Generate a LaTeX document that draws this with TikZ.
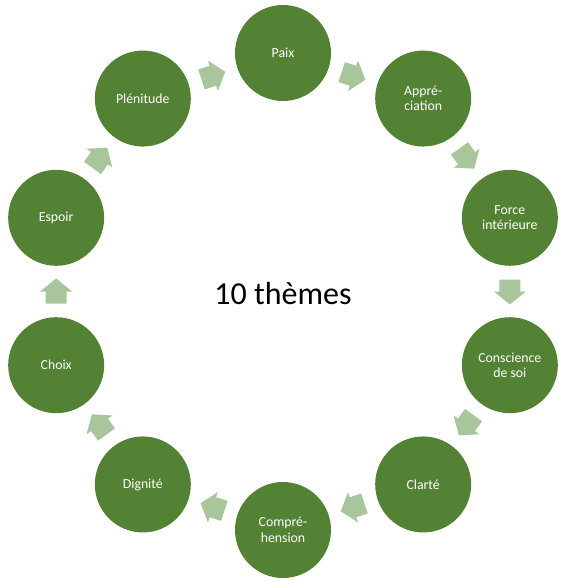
\documentclass[tikz,border=0pt]{standalone}
\usepackage{fontspec}
\setmainfont{Carlito}
\usetikzlibrary{calc}
\definecolor{circgreen}{RGB}{84,130,53}
\definecolor{arrgreen}{RGB}{169,197,156}
\tikzset{
  theme/.style={circle, fill=circgreen, minimum size=96pt, inner sep=0pt,
    text=white, font=\fontsize{13.8}{15.5}\selectfont, align=center},
  blockarrow/.style={fill=arrgreen}
}
\newcommand{\blockarr}[3]{%
  \fill[blockarrow, shift={($(#1)!0.5!(#2)$)}, rotate=#3]
    (-12pt,-10.5pt) -- (0pt,-10.5pt) -- (0pt,-16pt) -- (13pt,0pt) --
    (0pt,16pt) -- (0pt,10.5pt) -- (-12pt,10.5pt) -- cycle;}
\begin{document}
\begin{tikzpicture}
\useasboundingbox (-283pt,-290.5pt) rectangle (283pt,291.5pt);
\node[theme] (n0) at (90:238.5pt) {Paix};
\node[theme] (n1) at (54:238.5pt) {Appré-\\ciation};
\node[theme] (n2) at (18:238.5pt) {Force\\intérieure};
\node[theme] (n3) at (-18:238.5pt) {Conscience\\de soi};
\node[theme] (n4) at (-54:238.5pt) {Clarté};
\node[theme] (n5) at (-90:238.5pt) {Compré-\\hension};
\node[theme] (n6) at (-126:238.5pt) {Dignité};
\node[theme] (n7) at (-162:238.5pt) {Choix};
\node[theme] (n8) at (162:238.5pt) {Espoir};
\node[theme] (n9) at (126:238.5pt) {Plénitude};
\node[font=\fontsize{32}{38}\selectfont] (title) at (0pt,-2pt) {10 thèmes};
\blockarr{n0}{n1}{-18}
\blockarr{n1}{n2}{-54}
\blockarr{n2}{n3}{-90}
\blockarr{n3}{n4}{-126}
\blockarr{n4}{n5}{-162}
\blockarr{n5}{n6}{-198}
\blockarr{n6}{n7}{-234}
\blockarr{n7}{n8}{-270}
\blockarr{n8}{n9}{-306}
\blockarr{n9}{n0}{-342}
\end{tikzpicture}
\end{document}
